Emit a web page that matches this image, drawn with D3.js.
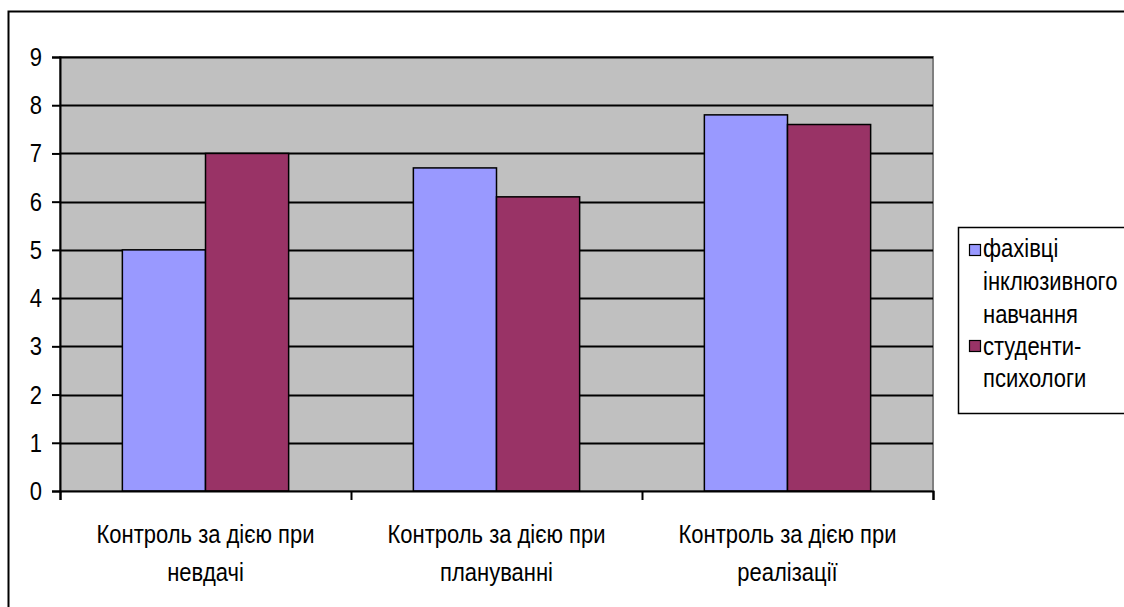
<!DOCTYPE html>
<html>
<head>
<meta charset="utf-8">
<script src="https://cdn.jsdelivr.net/npm/d3@7"></script>
<style>
  html, body { margin: 0; padding: 0; background: #fff; }
  svg { display: block; }
  text { font-family: "Liberation Sans", Arial, sans-serif; fill: #000; }
</style>
</head>
<body>
<svg id="chart" width="1124" height="607"></svg>
<script>
// Categories (two-line labels) and series values
const categories = [
  ["Контроль за дією при", "невдачі"],
  ["Контроль за дією при", "плануванні"],
  ["Контроль за дією при", "реалізації"]
];
const seriesNames = [["фахівці", "інклюзивного", "навчання"], ["студенти-", "психологи"]];
const specialists = [5.0, 6.7, 7.8];
const students = [7.0, 6.1, 7.6];
const yTicks = [0, 1, 2, 3, 4, 5, 6, 7, 8, 9];
const colors = ["#9999FF", "#993366"];

const svg = d3.select("#chart");
const W = 1124, H = 607;
const plot = { left: 60, right: 933, top: 57, bottom: 491 };
const fontSize = 22;
const stretch = 1.2; // tall, narrow lettering

// Outer chart frame
svg.append("rect")
  .attr("x", 8.5).attr("y", 11.5)
  .attr("width", W + 20).attr("height", H + 20)
  .attr("fill", "#fff").attr("stroke", "#000").attr("stroke-width", 2);

const x0 = d3.scaleBand().domain(d3.range(categories.length))
  .range([plot.left, plot.right]).paddingInner(0).paddingOuter(0);
// gap width 150%: bar pair occupies 2/(2+1.5) of the category
const groupW = x0.bandwidth() * 2 / 3.5;
const x1 = d3.scaleBand().domain([0, 1])
  .range([0, groupW]).padding(0);
const y = d3.scaleLinear().domain([0, 9]).range([plot.bottom, plot.top]);

// Plot background
svg.append("rect")
  .attr("x", plot.left).attr("y", plot.top)
  .attr("width", plot.right - plot.left).attr("height", plot.bottom - plot.top)
  .attr("fill", "#C0C0C0").attr("stroke", "#808080").attr("stroke-width", 2);

// Horizontal gridlines
svg.append("g").selectAll("line")
  .data(yTicks.filter(d => d > 0))
  .join("line")
  .attr("x1", plot.left).attr("x2", plot.right)
  .attr("y1", d => Math.round(y(d)) + 0.5).attr("y2", d => Math.round(y(d)) + 0.5)
  .attr("stroke", "#000").attr("stroke-width", 2);

// Bars
const rows = categories.map((c, i) => [specialists[i], students[i]]);
const groups = svg.append("g").selectAll("g")
  .data(rows)
  .join("g")
  .attr("transform", (d, i) => `translate(${x0(i) + (x0.bandwidth() - groupW) / 2},0)`);
groups.selectAll("rect")
  .data(d => d.map((v, k) => ({ v, k })))
  .join("rect")
  .attr("x", d => x1(d.k))
  .attr("y", d => y(d.v))
  .attr("width", x1.bandwidth())
  .attr("height", d => y(0) - y(d.v))
  .attr("fill", d => colors[d.k])
  .attr("stroke", "#000").attr("stroke-width", 1.5);

// Y axis
const yAxis = d3.axisLeft(y).tickValues(yTicks).tickSize(8).tickPadding(10).tickFormat(d3.format("d"));
const gy = svg.append("g").attr("transform", `translate(${plot.left},0)`).call(yAxis);
gy.select(".domain").attr("stroke", "#000").attr("stroke-width", 2);
gy.selectAll(".tick line").attr("stroke", "#000").attr("stroke-width", 2);
gy.selectAll(".tick text")
  .attr("font-family", null)
  .style("font-size", fontSize + "px")
  .attr("transform", `scale(1,${stretch})`);

// X axis
const xTickScale = d3.scaleLinear().domain([0, categories.length]).range([plot.left, plot.right]);
const xAxis = d3.axisBottom(xTickScale).tickValues(d3.range(categories.length + 1)).tickSize(9).tickFormat("");
const gx = svg.append("g").attr("transform", `translate(0,${plot.bottom})`).call(xAxis);
gx.select(".domain").attr("stroke", "#000").attr("stroke-width", 2);
gx.selectAll(".tick line").attr("stroke", "#000").attr("stroke-width", 2);

// A line of text anchored at its baseline, stretched vertically
function label(parent, x, base, str, anchor) {
  return parent.append("text")
    .attr("transform", `translate(${x},${base}) scale(1,${stretch})`)
    .attr("text-anchor", anchor || "start")
    .style("font-size", fontSize + "px")
    .text(str);
}

// Category labels
const catG = svg.append("g");
categories.forEach((lines, i) => {
  lines.forEach((ln, j) => {
    label(catG, x0(i) + x0.bandwidth() / 2, 543 + j * 38, ln, "middle");
  });
});

// Legend
const legend = svg.append("g");
legend.append("rect")
  .attr("x", 958.5).attr("y", 227.5)
  .attr("width", 200).attr("height", 186)
  .attr("fill", "#fff").attr("stroke", "#000").attr("stroke-width", 1.5);
const swatchTop = [244, 340];
const lineBase = [[257, 290, 323], [355, 387]];
seriesNames.forEach((lines, k) => {
  legend.append("rect")
    .attr("x", 969.5).attr("y", swatchTop[k] + 0.5)
    .attr("width", 11).attr("height", 11)
    .attr("fill", colors[k]).attr("stroke", "#000").attr("stroke-width", 1.2);
  lines.forEach((ln, j) => label(legend, 983, lineBase[k][j], ln));
});
</script>
</body>
</html>
